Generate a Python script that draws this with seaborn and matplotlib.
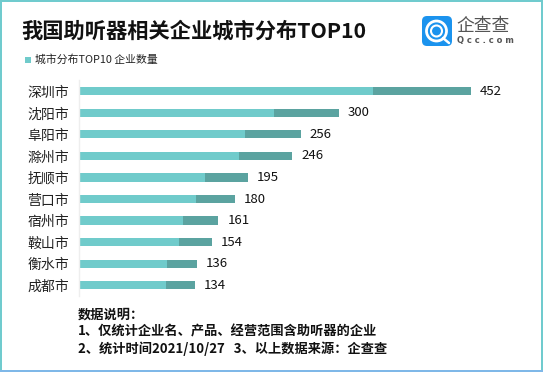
import matplotlib
matplotlib.use("Agg")
import matplotlib.pyplot as plt
from matplotlib.patches import FancyBboxPatch, Rectangle, Circle
import seaborn as sns
import pandas as pd

cities = ["深圳市", "沈阳市", "阜阳市", "滁州市", "抚顺市", "营口市", "宿州市", "鞍山市", "衡水市", "成都市"]
counts = [452, 300, 256, 246, 195, 180, 161, 154, 136, 134]
title = "我国助听器相关企业城市分布TOP10"
legend_label = "城市分布TOP10 企业数量"
notes = ["数据说明：", "1、仅统计企业名、产品、经营范围含助听器的企业", "2、统计时间2021/10/27   3、以上数据来源：企查查"]
light_share = 0.75

W, H = 543, 372
sns.set_theme(style="white")
plt.rcParams['font.family'] = ['Noto Sans CJK SC', 'DejaVu Sans']

df = pd.DataFrame({"city": cities, "count": counts})
df["light"] = df["count"] * light_share

fig = plt.figure(figsize=(W / 100, H / 100), dpi=100, facecolor="white")
def fx(px): return px / W
def fy(py): return 1 - py / H

ax = fig.add_axes([fx(78.5), fy(296), fx(530) - fx(78.5), (296 - 80.5) / H])
sns.barplot(data=df, y="city", x="count", color="#5BA3A0", saturation=1, width=0.38, linewidth=0, ax=ax)
sns.barplot(data=df, y="city", x="light", color="#70CBCB", saturation=1, width=0.38, linewidth=0, ax=ax)
ax.set_xlim(0, 451.5 / (392.5 / 452))
ax.set_xlabel(""); ax.set_ylabel("")
ax.xaxis.set_visible(False)
for s in ["top", "right", "bottom"]:
    ax.spines[s].set_visible(False)
ax.spines["left"].set_color("#EEEEEE")
ax.spines["left"].set_linewidth(1)
ax.tick_params(axis="y", length=0, pad=7, labelsize=10, labelcolor="#222222")
for i, v in enumerate(counts):
    ax.annotate(str(v), (v, i), xytext=(9, 0), textcoords="offset pixels",
                va="center", ha="left", fontsize=9.5, color="#111111")

# frame
fig.add_artist(Rectangle((0, fy(2)), 1, 2 / H, transform=fig.transFigure, color="#70CBCE", lw=0))
fig.add_artist(Rectangle((0, 0), 2 / W, 1, transform=fig.transFigure, color="#70CBCE", lw=0))
fig.add_artist(Rectangle((fx(541), 0), 2 / W, 1, transform=fig.transFigure, color="#70CBCE", lw=0))
fig.add_artist(Rectangle((0, 0), 1, 2 / H, transform=fig.transFigure, color="#7FB8E8", lw=0))

fig.text(fx(21), fy(31.5), title, fontsize=15.3, fontweight="bold", color="#111111", va="center", ha="left")
fig.add_artist(Rectangle((fx(24.5), fy(63)), 6 / W, 6 / H, transform=fig.transFigure, color="#70CBCB", lw=0))
fig.text(fx(35), fy(60), legend_label, fontsize=7.8, color="#222222", va="center", ha="left")

for y, line in zip([314.5, 331.5, 348.5], notes):
    fig.text(fx(78), fy(y), line, fontsize=9.5, fontweight="bold", color="#111111", va="center", ha="left")

# logo
logo = fig.add_axes([0, 0, 1, 1], facecolor="none")
logo.set_xlim(0, W); logo.set_ylim(H, 0); logo.axis("off")
logo.add_patch(FancyBboxPatch((422, 16), 30, 30, boxstyle="round,pad=0,rounding_size=5", fc="#1B93EE", ec="none"))
logo.add_patch(Circle((436.5, 31), 10, fc="none", ec="white", lw=2))
logo.add_patch(Circle((436.5, 31), 5.5, fc="none", ec="white", lw=1.5))
logo.plot([443, 449], [38, 43], color="white", lw=1.8)
logo.text(456.5, 25.5, "企查查", fontsize=12.8, color="#555555", va="center", ha="left")
logo.text(457, 41, "Q c c . c o m", fontsize=6, color="#555555", va="center", ha="left", fontweight="bold", fontfamily="DejaVu Sans")

fig.savefig("out.png", dpi=100)
